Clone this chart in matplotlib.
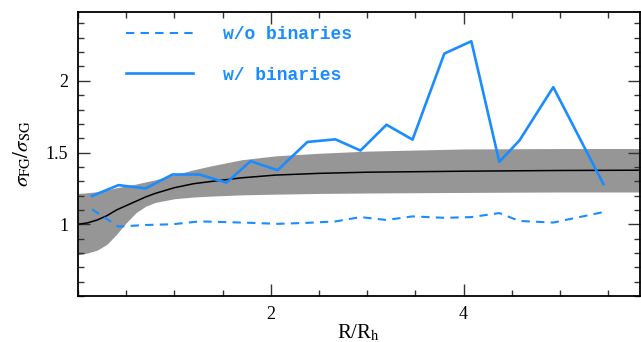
import matplotlib
matplotlib.use('Agg')
import matplotlib.pyplot as plt
from matplotlib.lines import Line2D
from matplotlib.ticker import MultipleLocator

plt.rcParams['font.family'] = 'Liberation Serif'
plt.rcParams['mathtext.fontset'] = 'stix'

# simulated band: mean and spread of sigma_FG / sigma_SG
band_x = [0, 0.1, 0.2, 0.3, 0.4, 0.5, 0.6, 0.7, 0.8, 1.0, 1.2, 1.4, 1.7,
          2.05, 2.5, 3.0, 4.0, 5.0, 5.83]
band_mean = [1.0, 1.01, 1.03, 1.06, 1.10, 1.13, 1.16, 1.19, 1.215, 1.255,
             1.283, 1.30, 1.324, 1.343, 1.355, 1.363, 1.37, 1.375, 1.377]
band_hi = [1.215, 1.22, 1.227, 1.24, 1.255, 1.267, 1.28, 1.295, 1.31, 1.345,
           1.38, 1.41, 1.45, 1.477, 1.495, 1.51, 1.525, 1.528, 1.528]
band_lo = [0.787, 0.80, 0.82, 0.86, 0.93, 1.01, 1.08, 1.125, 1.152, 1.178,
           1.19, 1.197, 1.205, 1.21, 1.215, 1.218, 1.222, 1.225, 1.225]

# binned ratios
r_bins = [0.145, 0.42, 0.70, 0.98, 1.26, 1.54, 1.79, 2.07, 2.38, 2.67,
          2.93, 3.20, 3.47, 3.80, 4.08, 4.37, 4.58, 4.93, 5.45]
ratio_wo = [1.104, 0.984, 0.995, 1.00, 1.02, 1.015, 1.01, 1.003, 1.01, 1.02,
            1.05, 1.03, 1.055, 1.045, 1.05, 1.078, 1.023, 1.012, 1.085]
ratio_w = [1.197, 1.273, 1.25, 1.347, 1.347, 1.29, 1.44, 1.377, 1.574, 1.592,
           1.514, 1.694, 1.59, 2.19, 2.276, 1.435, 1.585, 1.956, 1.28]

blue = '#1a8cff'

fig = plt.figure(figsize=(6.41, 3.42), dpi=100)
ax = fig.add_axes([0.1217, 0.1345, 0.8768, 0.8305])

ax.fill_between(band_x, band_lo, band_hi, color='#969696', lw=0, zorder=1)
ax.plot(band_x, band_mean, color='black', lw=1.1, zorder=2)
ax.plot(r_bins, ratio_wo, color=blue, lw=1.5, dashes=(4, 3), zorder=3)
ax.plot(r_bins, ratio_w, color=blue, lw=1.9, zorder=3)

ax.set_xlim(0, 5.83)
ax.set_ylim(0.5, 2.48)
ax.xaxis.set_major_locator(MultipleLocator(2))
ax.xaxis.set_minor_locator(MultipleLocator(0.5))
ax.yaxis.set_major_locator(MultipleLocator(0.5))
ax.yaxis.set_minor_locator(MultipleLocator(0.1))
ax.set_xticks([2, 4])
ax.set_yticks([1, 1.5, 2])
ax.set_yticklabels(['1', '1.5', '2'])
ax.tick_params(which='both', direction='in', top=True, right=True,
               color='#333333', labelsize=13)
ax.tick_params(which='major', length=8.5, width=1.0, pad=7)
ax.tick_params(which='minor', length=4, width=1.0)
for s in ax.spines.values():
    s.set_linewidth(1.3)

ax.set_xlabel(r'R/R$_{\mathrm{h}}$', fontsize=15, labelpad=0)
ax.set_ylabel(r'$\sigma_{\mathrm{FG}}/\sigma_{\mathrm{SG}}$', fontsize=15,
              labelpad=9)

handles = [Line2D([], [], color=blue, lw=1.5, dashes=(4, 3)),
           Line2D([], [], color=blue, lw=1.9)]
leg = ax.legend(handles, ['w/o binaries', 'w/ binaries'], loc='upper left',
                bbox_to_anchor=(0.085, 0.95), frameon=False, borderpad=0,
                borderaxespad=0, handlelength=3.7, handletextpad=1.7,
                labelspacing=1.3,
                prop={'family': 'Liberation Mono', 'weight': 'bold', 'size': 13})
for t in leg.get_texts():
    t.set_color(blue)

fig.savefig('out.png', dpi=100)
